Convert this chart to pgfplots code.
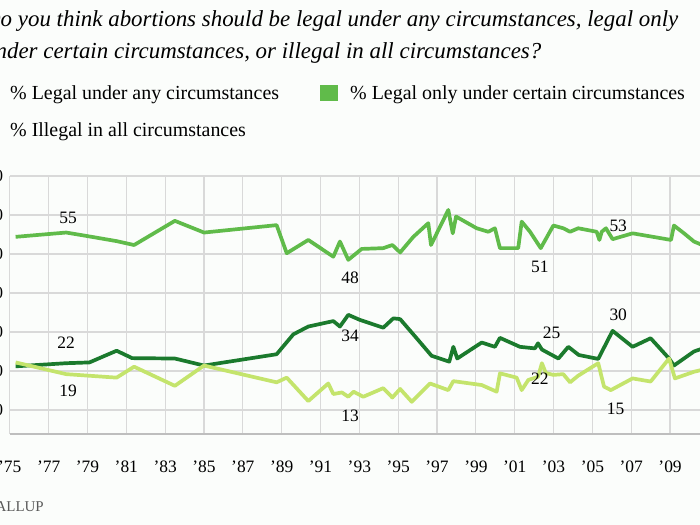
\documentclass[border=0pt]{standalone}
\usepackage{fontspec}
\setmainfont{Liberation Serif}
\usepackage{pgfplots}
\pgfplotsset{compat=1.18}
\definecolor{cdark}{RGB}{27,122,45}
\definecolor{cmid}{RGB}{96,187,74}
\definecolor{clight}{RGB}{196,228,108}
\definecolor{cgrid}{RGB}{217,217,217}
\definecolor{caxis}{RGB}{190,190,190}
\definecolor{cbg}{RGB}{251,253,251}
\begin{document}
\begin{tikzpicture}[x=1bp,y=1bp]
\clip (0,0) rectangle (700,525);
\fill[cbg] (0,0) rectangle (700,525);
% title
\node[anchor=base west, inner sep=0pt, font=\fontsize{23}{26}\selectfont\itshape] at (-16,498) {Do you think abortions should be legal under any circumstances, legal only};
\node[anchor=base west, inner sep=0pt, font=\fontsize{23}{26}\selectfont\itshape] at (-16,466) {under certain circumstances, or illegal in all circumstances?};
% legend
\fill[cdark] (-20,424) rectangle (-2,440);
\node[anchor=base west, inner sep=0pt, font=\fontsize{20}{22}\selectfont] at (10,425) {\% Legal under any circumstances};
\fill[cmid] (320,424) rectangle (338,440);
\node[anchor=base west, inner sep=0pt, font=\fontsize{20}{22}\selectfont] at (350,425) {\% Legal only under certain circumstances};
\fill[clight] (-20,387) rectangle (-2,403);
\node[anchor=base west, inner sep=0pt, font=\fontsize{20}{22}\selectfont] at (10,388) {\% Illegal in all circumstances};
% source
\node[anchor=base east, inner sep=0pt, text=black!65, font=\fontsize{15}{16}\selectfont] at (44,13) {GALLUP};
\begin{axis}[
  at={(9.8bp,91bp)}, anchor=south west,
  scale only axis, width=708.8bp, height=258bp,
  xmin=1975, xmax=2011.5, ymin=3.85, ymax=70,
  axis x line*=bottom, axis y line*=left,
  y axis line style={draw=none},
  x axis line style={draw=caxis, line width=1.6bp, -},
  xtick={1975,1977,...,2009},
  xticklabels={'75,'77,'79,'81,'83,'85,'87,'89,'91,'93,'95,'97,'99,'01,'03,'05,'07,'09},
  extra x ticks={2011},
  extra x tick labels={},
  ytick={10,20,...,70},
  major tick length=0pt,
  grid=major,
  major grid style={draw=cgrid, line width=1.2bp},
  xticklabel style={anchor=base, yshift=-39bp, font=\fontsize{17.5}{18}\selectfont},
  yticklabel style={anchor=east, inner sep=0pt, xshift=-6.5bp, font=\fontsize{17}{18}\selectfont},
  /pgf/number format/assume math mode=true,
  every axis plot/.append style={line width=3.7bp, line join=round, no marks},
]
% Legal only under certain circumstances
\addplot[cmid] coordinates {
(1975.3,54.4) (1977.9,55.5) (1979.1,54.5) (1980.5,53.3) (1981.4,52.3) (1983.5,58.5)
(1985.0,55.5) (1988.74,57.4) (1989.26,50.2) (1990.37,53.6) (1991.66,49.3) (1992.0,53.2)
(1992.43,48.5) (1993.12,51.3) (1994.23,51.5) (1994.7,52.3) (1995.1,50.4) (1995.78,54.4)
(1996.55,57.9) (1996.69,52.3) (1997.58,61.3) (1997.81,55.3) (1997.98,59.6) (1999.04,56.6)
(1999.64,55.7) (1999.98,56.6) (2000.24,51.5) (2001.18,51.5) (2001.36,58.3) (2001.79,55.7)
(2002.34,51.5) (2002.99,57.3) (2003.5,56.6) (2003.85,55.7) (2004.27,56.6) (2005.22,55.7)
(2005.36,53.6) (2005.48,55.7) (2005.7,56.6) (2006.04,53.8) (2007.07,55.3) (2009.05,53.6)
(2009.2,57.3) (2009.72,55.3) (2010.23,53.2) (2010.8,52.0)
};
% Legal under any circumstances
\addplot[cdark] coordinates {
(1975.3,21.2) (1977.9,22.0) (1979.1,22.2) (1980.5,25.2) (1981.3,23.3) (1983.5,23.2)
(1985.0,21.4) (1988.74,24.3) (1989.6,29.4) (1990.37,31.4) (1991.66,32.8) (1992.0,31.4)
(1992.43,34.4) (1993.03,33.1) (1994.23,31.1) (1994.75,33.5) (1995.1,33.3) (1995.95,28.4)
(1996.72,23.9) (1997.63,22.4) (1997.84,26.2) (1998.04,23.2) (1999.3,27.3) (1999.98,26.2)
(2000.24,28.5) (2001.27,26.2) (2002.04,25.8) (2002.2,27.1) (2002.4,25.5) (2003.25,23.2)
(2003.76,26.2) (2004.3,24.1) (2005.3,23.1) (2006.04,30.3) (2007.07,26.2) (2008.0,28.4)
(2008.95,23.2) (2009.2,21.4) (2010.23,25.0) (2010.8,26.0)
};
% Illegal in all circumstances
\addplot[clight] coordinates {
(1975.3,22.2) (1977.9,19.2) (1980.5,18.3) (1981.4,21.1) (1983.5,16.2) (1985.0,21.4)
(1988.74,17.1) (1989.26,18.3) (1990.37,12.3) (1991.4,16.8) (1991.66,14.1) (1992.1,14.5)
(1992.43,13.4) (1992.7,14.7) (1993.2,13.4) (1994.23,15.6) (1994.7,13.2) (1995.1,15.4)
(1995.7,12.1) (1996.64,16.8) (1997.58,15.1) (1997.84,17.4) (1999.3,16.4) (2000.07,14.7)
(2000.24,19.4) (2001.1,18.3) (2001.36,15.1) (2001.7,17.7) (2002.2,18.5) (2002.4,22.0)
(2002.6,19.5) (2002.99,19.0) (2003.5,19.2) (2003.85,17.1) (2004.27,18.8) (2005.3,22.0)
(2005.6,16.0) (2005.95,15.1) (2007.07,18.1) (2008.0,17.3) (2008.95,23.2) (2009.25,18.1)
(2010.23,19.8) (2010.8,20.5)
};
\begin{scope}[every node/.style={font=\fontsize{17.5}{18}\selectfont, inner sep=0pt}]
\node at (axis cs:1978.0,59.2) {55};
\node at (axis cs:1977.9,27.2) {22};
\node at (axis cs:1978.0,14.9) {19};
\node at (axis cs:1992.52,43.8) {48};
\node at (axis cs:1992.52,29.0) {34};
\node at (axis cs:1992.52,8.5) {13};
\node at (axis cs:2002.3,46.7) {51};
\node at (axis cs:2002.9,29.7) {25};
\node at (axis cs:2002.3,18.1) {22};
\node at (axis cs:2006.33,57.3) {53};
\node at (axis cs:2006.33,34.4) {30};
\node at (axis cs:2006.2,10.4) {15};
\end{scope}
\end{axis}
\end{tikzpicture}
\end{document}
